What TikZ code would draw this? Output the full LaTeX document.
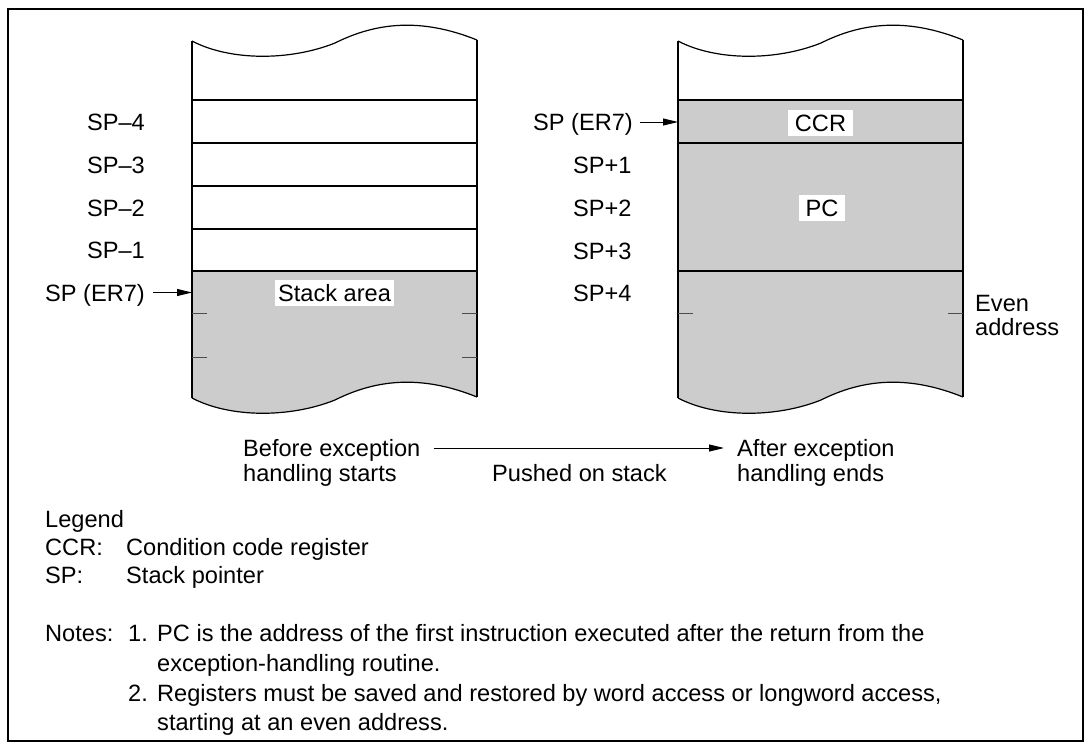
\documentclass[tikz,border=0pt]{standalone}
\usepackage{fontspec}
\setmainfont{Liberation Sans}
\usetikzlibrary{arrows.meta}
\tikzset{
  lbl/.style={inner sep=0pt, text height=17pt, text depth=0pt, font=\fontsize{23.6}{25}\selectfont},
  note/.style={lbl, anchor=west},
  wbox/.style={lbl, fill=white, inner xsep=7pt, inner ysep=4.5pt},
  arr/.style={-{Triangle[length=15pt,width=7pt]}, line width=1pt},
  colline/.style={line width=1.2pt},
  tickmark/.style={line width=1pt, draw=black!70},
  shade/.style={fill=black!20}
}
\newcommand\memtopwave{(192,41) .. controls (230,61) and (290,61) .. (335,43) .. controls (375,23) and (420,17) .. (477,40)}
\newcommand\membotwave{(192,398) .. controls (230,418) and (290,418) .. (335,400) .. controls (375,380) and (420,374) .. (477,397)}
\begin{document}
\begin{tikzpicture}[x=1pt,y=-1pt]
\useasboundingbox (0,0) rectangle (1092,750);
\draw[line width=2pt] (8,9) rectangle (1083,741);

% ---------- left column ----------
\fill[shade] (192,271) -- \membotwave -- (477,271) -- cycle;
\draw[colline] \membotwave;
\draw[colline] \memtopwave;
\draw[colline] (192,41) -- (192,398);
\draw[colline] (477,40) -- (477,397);
\foreach \yy in {100,143,186,229,271} \draw[colline] (192,\yy) -- (477,\yy);
\foreach \yy in {313,357} {
  \draw[tickmark] (192,\yy) -- (207,\yy);
  \draw[tickmark] (462,\yy) -- (477,\yy);
}
\node[wbox, inner xsep=3pt] (stack) at (334.5,292.5) {Stack area};

\node[lbl, anchor=east] (lm4) at (145,121.5) {SP–4};
\node[lbl, anchor=east] (lm3) at (145,164.5) {SP–3};
\node[lbl, anchor=east] (lm2) at (145,207.5) {SP–2};
\node[lbl, anchor=east] (lm1) at (145,250) {SP–1};
\node[lbl, anchor=east] (lsp) at (145,292.5) {SP (ER7)};
\coordinate (lspt) at (192,292.5);
\draw[arr] ([xshift=8pt]lsp.east) -- (lspt);

% ---------- right column ----------
\begin{scope}[xshift=486pt]
\fill[shade] (192,100) -- \membotwave -- (477,100) -- cycle;
\draw[colline] \membotwave;
\draw[colline] \memtopwave;
\draw[colline] (192,41) -- (192,398);
\draw[colline] (477,40) -- (477,397);
\foreach \yy in {100,143,271} \draw[colline] (192,\yy) -- (477,\yy);
\draw[tickmark] (192,313) -- (207,313);
\draw[tickmark] (462,313) -- (477,313);
\end{scope}
\node[wbox] (ccr) at (820.5,123) {CCR};
\node[wbox] (pc) at (822,208) {PC};

\node[lbl, anchor=east] (rsp) at (633,122) {SP (ER7)};
\coordinate (rspt) at (678,122);
\draw[arr] ([xshift=7pt]rsp.east) -- (rspt);
\node[lbl, anchor=west] (rp1) at (573,165) {SP+1};
\node[lbl, anchor=west] (rp2) at (573,208) {SP+2};
\node[lbl, anchor=west] (rp3) at (573,251) {SP+3};
\node[lbl, anchor=west] (rp4) at (573,293) {SP+4};

\node[lbl, anchor=west] (even1) at (975,303) {Even};
\node[lbl, anchor=west] (even2) at (975,327) {address};

% ---------- transition ----------
\node[lbl, anchor=west] (bef1) at (243,448) {Before exception};
\node[lbl, anchor=west] (bef2) at (243,473) {handling starts};
\node[lbl, anchor=west] (aft1) at (737,448) {After exception};
\node[lbl, anchor=west] (aft2) at (737,473) {handling ends};
\node[lbl, anchor=west] (push) at (492,473) {Pushed on stack};
\draw[arr] ([xshift=13pt]bef1.east) -- ([xshift=-13pt]aft1.west);

% ---------- legend & notes ----------
\node[note] (legend) at (45,519) {Legend};
\node[note] (ccrk) at (45,547) {CCR:};
\node[note] (ccrv) at (126,547) {Condition code register};
\node[note] (spk) at (45,575) {SP:};
\node[note] (spv) at (126,575) {Stack pointer};
\node[note] (notes) at (45,633) {Notes:};
\node[note] (n1) at (128,633) {1.};
\node[note] (n1a) at (157,633) {PC is the address of the first instruction executed after the return from the};
\node[note] (n1b) at (157,663) {exception-handling routine.};
\node[note] (n2) at (128,693) {2.};
\node[note] (n2a) at (157,693) {Registers must be saved and restored by word access or longword access,};
\node[note] (n2b) at (157,722) {starting at an even address.};
\end{tikzpicture}
\end{document}
